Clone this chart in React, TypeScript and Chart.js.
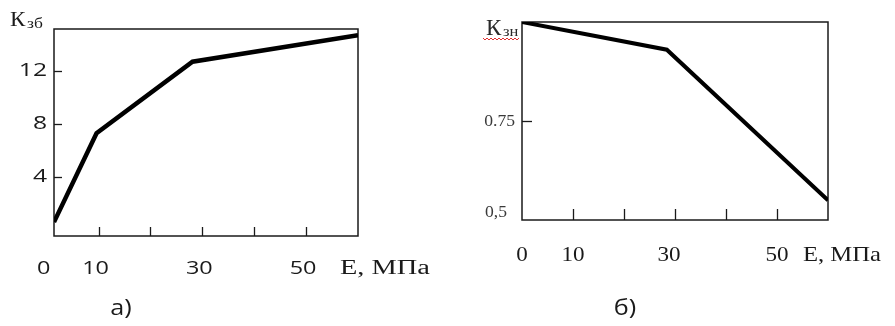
import React, { useEffect, useRef } from 'react';
import { Chart, registerables } from 'chart.js';

Chart.register(...registerables);

// ---- Panel a) : K_зб vs E ----
const leftE = [1.4, 9.6, 28.1, 60];
const leftK = [0.6, 7.3, 12.7, 14.7];
const leftYTicks = [4, 8, 12];
const leftXTicks = [10, 20, 30, 40, 50];
const leftXLabels = [0, 10, 30, 50];

// ---- Panel б) : K_зн vs E ----
const rightE = [0, 28.4, 60];
const rightK = [1.0, 0.93, 0.55];
const rightYTicks = [0.75];
const rightYLabelValues = [0.75, 0.5];
const rightYLabelTexts = ['0.75', '0,5'];
const rightXTicks = [10, 20, 30, 40, 50];
const rightXLabels = [0, 10, 30, 50];

const axisUnit = 'E, МПа';

function drawText(
  ctx: CanvasRenderingContext2D,
  text: string,
  x: number,
  y: number,
  font: string,
  align: CanvasTextAlign,
  sx: number,
  color: string,
  baseline: CanvasTextBaseline = 'middle'
) {
  ctx.save();
  ctx.translate(x, y);
  ctx.scale(sx, 1);
  ctx.font = font;
  ctx.textAlign = align;
  ctx.textBaseline = baseline;
  ctx.fillStyle = color;
  ctx.fillText(text, 0, 0);
  ctx.restore();
}

function frameAndTicks(chart: any, xTicks: number[], yTicks: number[], xLen: number, yLen: number) {
  const { ctx, chartArea: a, scales } = chart;
  const x = scales.x;
  const y = scales.y;
  ctx.save();
  ctx.strokeStyle = '#1a1a1a';
  ctx.lineWidth = 1.5;
  ctx.strokeRect(a.left, a.top, a.right - a.left, a.bottom - a.top);
  ctx.lineWidth = 1.3;
  for (const v of xTicks) {
    const px = Math.round(x.getPixelForValue(v)) + 0.5;
    ctx.beginPath();
    ctx.moveTo(px, a.bottom);
    ctx.lineTo(px, a.bottom - xLen);
    ctx.stroke();
  }
  for (const v of yTicks) {
    const py = Math.round(y.getPixelForValue(v)) + 0.5;
    ctx.beginPath();
    ctx.moveTo(a.left, py);
    ctx.lineTo(a.left + yLen, py);
    ctx.stroke();
  }
  ctx.restore();
}

const leftPlugin = {
  id: 'leftDecor',
  beforeDatasetsDraw(chart: any) {
    frameAndTicks(chart, leftXTicks, leftYTicks, 9, 8);
  },
  afterDraw(chart: any) {
    const { ctx, chartArea: a, scales } = chart;
    const x = scales.x;
    const y = scales.y;
    for (const v of leftYTicks) {
      drawText(ctx, String(v), a.left - 7, y.getPixelForValue(v), '19px "Open Sans"', 'right', 1.3, '#1a1a1a');
    }
    for (const v of leftXLabels) {
      drawText(ctx, String(v), x.getPixelForValue(v) - 3, 269, '18px "Open Sans"', 'center', 1.3, '#1a1a1a');
    }
    drawText(ctx, axisUnit, 340, 269, '20px "Liberation Serif"', 'left', 1.42, '#1a1a1a');
    drawText(ctx, 'К', 10, 26, '22px "Liberation Serif"', 'left', 1.05, '#1a1a1a', 'alphabetic');
    drawText(ctx, 'зб', 27, 27.5, '14px "Liberation Serif"', 'left', 1.25, '#1a1a1a', 'alphabetic');
    drawText(ctx, 'а)', 121, 309, '21px "Open Sans"', 'center', 1.2, '#1a1a1a');
  },
};

const rightPlugin = {
  id: 'rightDecor',
  beforeDatasetsDraw(chart: any) {
    frameAndTicks(chart, rightXTicks, rightYTicks, 11, 10);
  },
  afterDraw(chart: any) {
    const { ctx, chartArea: a, scales } = chart;
    const x = scales.x;
    const y = scales.y;
    const yOffsets = [1, -7];
    const xOffsets = [7, 15];
    rightYLabelValues.forEach((v, i) => {
      drawText(ctx, rightYLabelTexts[i], a.left - xOffsets[i], y.getPixelForValue(v) + yOffsets[i], '16px "Liberation Serif"', 'right', 1.1, '#3a3a3a');
    });
    for (const v of rightXLabels) {
      drawText(ctx, String(v), x.getPixelForValue(v) - (v === 30 ? 6 : 0), 255, '22px "Liberation Serif"', 'center', 1.05, '#1a1a1a');
    }
    drawText(ctx, axisUnit, 356, 255, '22px "Liberation Serif"', 'left', 1.12, '#1a1a1a');
    drawText(ctx, 'К', 39, 35, '23px "Liberation Serif"', 'left', 1.0, '#2a2a2a', 'alphabetic');
    drawText(ctx, 'зн', 56, 36, '15px "Liberation Serif"', 'left', 1.1, '#2a2a2a', 'alphabetic');
    // red wavy (spell-check) underline
    ctx.save();
    ctx.strokeStyle = '#e03030';
    ctx.lineWidth = 1;
    ctx.beginPath();
    for (let px = 36; px <= 73; px += 2) {
      const py = 39 + ((px / 2) % 2 === 0 ? -1 : 1);
      if (px === 36) ctx.moveTo(px, py);
      else ctx.lineTo(px, py);
    }
    ctx.stroke();
    ctx.restore();
    drawText(ctx, 'б)', 178, 309, '21px "Open Sans"', 'center', 1.2, '#1a1a1a');
  },
};

type PanelSpec = {
  left: number;
  width: number;
  height: number;
  padding: { left: number; top: number; right: number; bottom: number };
  xMin: number;
  xMax: number;
  yMin: number;
  yMax: number;
  xs: number[];
  ys: number[];
  lineWidth: number;
  plugin: any;
};

function Panel({ spec }: { spec: PanelSpec }) {
  const ref = useRef<HTMLCanvasElement | null>(null);
  useEffect(() => {
    if (!ref.current) return;
    const chart = new Chart(ref.current, {
      type: 'line',
      data: {
        datasets: [
          {
            data: spec.xs.map((v, i) => ({ x: v, y: spec.ys[i] })),
            borderColor: '#000',
            borderWidth: spec.lineWidth,
            pointRadius: 0,
            tension: 0,
            borderJoinStyle: 'miter',
            fill: false,
          },
        ],
      },
      options: {
        responsive: false,
        animation: false,
        devicePixelRatio: 1,
        layout: { padding: spec.padding },
        plugins: { legend: { display: false }, tooltip: { enabled: false } },
        scales: {
          x: { type: 'linear', min: spec.xMin, max: spec.xMax, display: false },
          y: { type: 'linear', min: spec.yMin, max: spec.yMax, display: false },
        },
      },
      plugins: [spec.plugin],
    } as any);
    return () => chart.destroy();
  }, [spec]);
  return (
    <canvas
      ref={ref}
      width={spec.width}
      height={spec.height}
      style={{ position: 'absolute', left: spec.left, top: 0, width: spec.width, height: spec.height }}
    />
  );
}

const leftSpec: PanelSpec = {
  left: 0,
  width: 447,
  height: 326,
  padding: { left: 54, top: 29, right: 89, bottom: 90 },
  xMin: 1.4,
  xMax: 60,
  yMin: -0.45,
  yMax: 15.17,
  xs: leftE,
  ys: leftK,
  lineWidth: 4.5,
  plugin: leftPlugin,
};

const rightSpec: PanelSpec = {
  left: 447,
  width: 448,
  height: 326,
  padding: { left: 75, top: 22, right: 67, bottom: 106 },
  xMin: 0,
  xMax: 60,
  yMin: 0.5,
  yMax: 1.0,
  xs: rightE,
  ys: rightK,
  lineWidth: 4,
  plugin: rightPlugin,
};

export default function App() {
  return (
    <div style={{ position: 'absolute', left: 0, top: 0, width: 895, height: 326, background: '#fff', overflow: 'hidden' }}>
      <Panel spec={leftSpec} />
      <Panel spec={rightSpec} />
    </div>
  );
}
